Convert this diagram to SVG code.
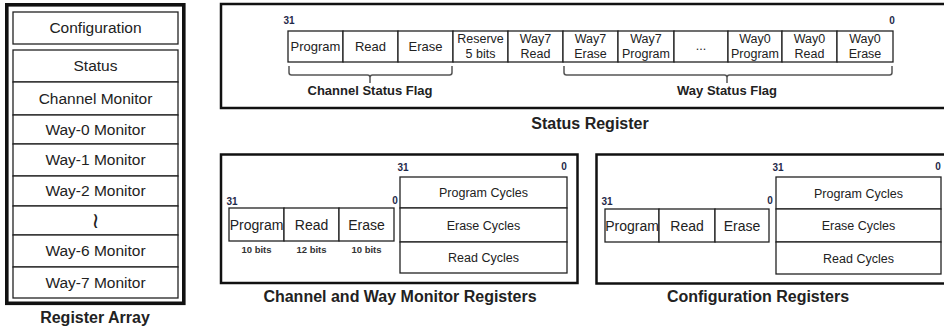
<svg xmlns="http://www.w3.org/2000/svg" width="944" height="330" viewBox="0 0 944 330">
<style>
.t{font-family:"Liberation Sans",Arial,sans-serif;fill:#222;text-anchor:middle}
.a{font-size:15.5px}
.c{font-size:12.5px}
.m{font-size:14px}
.n{font-size:10px;font-weight:bold;fill:#1f2a4a}
.b{font-size:9.5px;font-weight:bold;fill:#333}
.h{font-size:16px;font-weight:bold}
.f{font-size:13px;font-weight:bold}
.box{fill:#fff;stroke:#222;stroke-width:1.3}
.frame{fill:none;stroke:#111;stroke-width:2.5}
.brace{fill:none;stroke:#555;stroke-width:1.5}
</style>
<rect width="944" height="330" fill="#fff"/>

<g id="register-array">
<rect x="6.8" y="4.8" width="177" height="298.5" fill="none" stroke="#111" stroke-width="3.6"/>
<rect class="box" x="13" y="12" width="165" height="32"/>
<text class="t a" x="95.5" y="33">Configuration</text>
<rect class="box" x="13" y="50" width="165" height="32"/>
<text class="t a" x="95.5" y="71">Status</text>
<rect class="box" x="13" y="82" width="165" height="33"/>
<text class="t a" x="95.5" y="104">Channel Monitor</text>
<rect class="box" x="13" y="115" width="165" height="29"/>
<text class="t a" x="95.5" y="135">Way-0 Monitor</text>
<rect class="box" x="13" y="144" width="165" height="32"/>
<text class="t a" x="95.5" y="165">Way-1 Monitor</text>
<rect class="box" x="13" y="176" width="165" height="30"/>
<text class="t a" x="95.5" y="196">Way-2 Monitor</text>
<rect class="box" x="13" y="206" width="165" height="29"/>
<text class="t" x="95.5" y="228" style="font-size:22px;font-family:'DejaVu Sans',sans-serif">≀</text>
<rect class="box" x="13" y="235" width="165" height="32"/>
<text class="t a" x="95.5" y="256">Way-6 Monitor</text>
<rect class="box" x="13" y="267" width="165" height="31"/>
<text class="t a" x="95.5" y="288">Way-7 Monitor</text>
<text class="t h" x="95" y="323">Register Array</text>
</g>

<g id="status-register">
<rect class="frame" x="221" y="4" width="740" height="104"/>
<text class="t n" x="289" y="24">31</text>
<text class="t n" x="892" y="24">0</text>
<g>
<rect class="box" x="288" y="31" width="55" height="31"/>
<rect class="box" x="343" y="31" width="55" height="31"/>
<rect class="box" x="398" y="31" width="55" height="31"/>
<rect class="box" x="453" y="31" width="55" height="31"/>
<rect class="box" x="508" y="31" width="55" height="31"/>
<rect class="box" x="563" y="31" width="55" height="31"/>
<rect class="box" x="618" y="31" width="56" height="31"/>
<rect class="box" x="674" y="31" width="54" height="31"/>
<rect class="box" x="728" y="31" width="54" height="31"/>
<rect class="box" x="782" y="31" width="55" height="31"/>
<rect class="box" x="837" y="31" width="56" height="31"/>
</g>
<text class="t c" x="315.5" y="50.5" style="font-size:13px">Program</text>
<text class="t c" x="370.5" y="50.5" style="font-size:13px">Read</text>
<text class="t c" x="425.5" y="50.5" style="font-size:13px">Erase</text>
<text class="t c" x="480.5" y="43">Reserve</text>
<text class="t c" x="480.5" y="58">5 bits</text>
<text class="t c" x="535.5" y="43">Way7</text>
<text class="t c" x="535.5" y="58">Read</text>
<text class="t c" x="590.5" y="43">Way7</text>
<text class="t c" x="590.5" y="58">Erase</text>
<text class="t c" x="646" y="43">Way7</text>
<text class="t c" x="646" y="58">Program</text>
<text class="t c" x="701" y="50">...</text>
<text class="t c" x="755" y="43">Way0</text>
<text class="t c" x="755" y="58">Program</text>
<text class="t c" x="809.5" y="43">Way0</text>
<text class="t c" x="809.5" y="58">Read</text>
<text class="t c" x="865" y="43">Way0</text>
<text class="t c" x="865" y="58">Erase</text>
<path class="brace" d="M289,66 V72.5 Q289,75 291.5,75 H367.5 Q370,75 370,77.5 V83 M370,77.5 Q370,75 372.5,75 H449.5 Q452,75 452,72.5 V66"/>
<path class="brace" d="M564,66 V72.5 Q564,75 566.5,75 H724.5 Q727,75 727,77.5 V83 M727,77.5 Q727,75 729.5,75 H889.5 Q892,75 892,72.5 V66"/>
<text class="t f" x="370" y="95">Channel Status Flag</text>
<text class="t f" x="727" y="95">Way Status Flag</text>
<text class="t h" x="590" y="129">Status Register</text>
</g>

<g id="monitor-registers">
<rect class="frame" x="221" y="154.5" width="356.5" height="128.5"/>
<text class="t n" x="232" y="205">31</text>
<text class="t n" x="395" y="204">0</text>
<rect class="box" x="229" y="208" width="55" height="33"/>
<rect class="box" x="284" y="208" width="55" height="33"/>
<rect class="box" x="339" y="208" width="55" height="33"/>
<text class="t m" x="256.5" y="229.5">Program</text>
<text class="t m" x="311.5" y="229.5">Read</text>
<text class="t m" x="366.5" y="229.5">Erase</text>
<text class="t b" x="256.5" y="253">10 bits</text>
<text class="t b" x="311.5" y="253">12 bits</text>
<text class="t b" x="366.5" y="253">10 bits</text>
<text class="t n" x="403" y="171">31</text>
<text class="t n" x="564" y="170">0</text>
<rect class="box" x="400" y="177" width="167" height="31"/>
<rect class="box" x="400" y="208" width="167" height="34"/>
<rect class="box" x="400" y="242" width="167" height="31"/>
<text class="t c" x="483.5" y="197">Program Cycles</text>
<text class="t c" x="483.5" y="229.5">Erase Cycles</text>
<text class="t c" x="483.5" y="262">Read Cycles</text>
<text class="t h" x="400" y="302">Channel and Way Monitor Registers</text>
</g>

<g id="configuration-registers">
<rect class="frame" x="596.5" y="154.5" width="360" height="129"/>
<text class="t n" x="607" y="205">31</text>
<text class="t n" x="770" y="204">0</text>
<rect class="box" x="605" y="209" width="54" height="33"/>
<rect class="box" x="659" y="209" width="56" height="33"/>
<rect class="box" x="715" y="209" width="54" height="33"/>
<text class="t m" x="632" y="230.5">Program</text>
<text class="t m" x="687" y="230.5">Read</text>
<text class="t m" x="742" y="230.5">Erase</text>
<text class="t n" x="778" y="171">31</text>
<text class="t n" x="938" y="170">0</text>
<rect class="box" x="776" y="177" width="165" height="32"/>
<rect class="box" x="776" y="209" width="165" height="33"/>
<rect class="box" x="776" y="242" width="165" height="32"/>
<text class="t c" x="858.5" y="197.5">Program Cycles</text>
<text class="t c" x="858.5" y="230">Erase Cycles</text>
<text class="t c" x="858.5" y="262.5">Read Cycles</text>
<text class="t h" x="758" y="302">Configuration Registers</text>
</g>
</svg>
